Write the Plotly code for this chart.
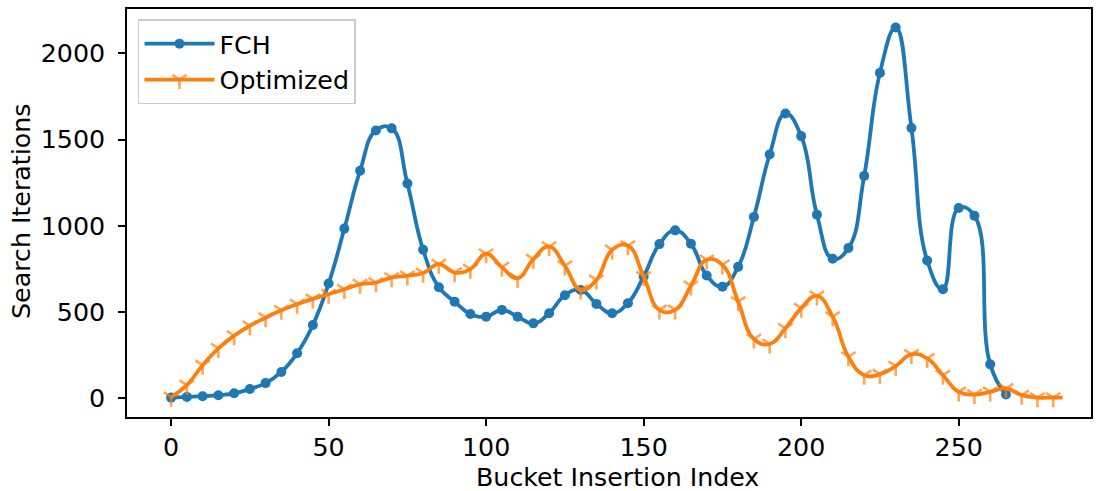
import plotly.graph_objects as go

# ---- data ----
fch_x = list(range(0, 270, 5))
fch_y = [2, 6, 10, 16, 27, 52, 86, 151, 259, 423, 664, 983, 1319, 1553, 1565, 1245,
         860, 643, 559, 487, 472, 511, 472, 433, 492, 596, 627, 546, 492, 550, 705,
         893, 973, 895, 711, 646, 761, 1051, 1413, 1651, 1520, 1064, 808, 870, 1289,
         1887, 2151, 1567, 798, 631, 1103, 1058, 195, 20]

opt_x = list(range(0, 285, 5)) + [283]
opt_y = [5, 74, 190, 288, 361, 419, 466, 509, 544, 575, 602, 631, 660, 670, 699, 709,
         725, 777, 728, 748, 837, 759, 695, 806, 879, 767, 627, 685, 860, 884, 705,
         511, 511, 651, 802, 773, 559, 342, 313, 404, 521, 592, 472, 239, 132, 138,
         185, 253, 229, 132, 35, 20, 35, 55, 16, 2, 2, 2]

x_ticks = [0, 50, 100, 150, 200, 250]
y_ticks = [0, 500, 1000, 1500, 2000]

BLUE = "#1f77b4"
ORANGE = "#ff7f0e"
FONT = "DejaVu Sans"
FS = 25.3

opt_sizes = [12] * (len(opt_x) - 1) + [0]
opt_lw = [2.6] * (len(opt_x) - 1) + [0]

fig = go.Figure()
fig.add_trace(go.Scatter(
    x=fch_x, y=fch_y, name="FCH", mode="lines+markers",
    line=dict(color=BLUE, width=3.8, shape="spline", smoothing=1.3),
    marker=dict(symbol="circle", size=10, color=BLUE),
))
fig.add_trace(go.Scatter(
    x=opt_x, y=opt_y, name="Optimized", mode="lines+markers",
    line=dict(color=ORANGE, width=3.8, shape="spline", smoothing=1.3),
    marker=dict(symbol="y-down", size=opt_sizes, color=ORANGE,
                line=dict(color=ORANGE, width=opt_lw)),
))

axis_common = dict(
    showline=True, linecolor="black", linewidth=1.6, mirror=True,
    ticks="outside", ticklen=7, tickwidth=1.6, tickcolor="black",
    showgrid=False, zeroline=False, automargin=False,
    tickfont=dict(family=FONT, size=FS, color="black"),
)

fig.update_layout(
    width=1097, height=491,
    margin=dict(l=127, r=6, t=9, b=74),
    paper_bgcolor="white", plot_bgcolor="white",
    font=dict(family=FONT, size=FS, color="black"),
    xaxis=dict(range=[-14, 292], tickvals=x_ticks, ticklabelstandoff=0, **axis_common),
    yaxis=dict(range=[-110.7, 2258], tickvals=y_ticks, ticklabelstandoff=8, **axis_common),
    legend=dict(x=0.0114, y=0.975, xanchor="left", yanchor="top",
                bgcolor="rgba(255,255,255,0.8)", bordercolor="#cccccc", borderwidth=1.5,
                font=dict(family=FONT, size=FS, color="black"),
                itemwidth=70, tracegroupgap=0),
    showlegend=True,
    annotations=[
        dict(text="Bucket Insertion Index", xref="paper", yref="paper", x=0.5083, y=0,
             xanchor="center", yanchor="middle", yshift=-60, showarrow=False,
             font=dict(family=FONT, size=FS, color="black")),
        dict(text="Search Iterations", xref="paper", yref="paper", x=0, y=0.5025,
             xanchor="center", yanchor="middle", xshift=-105, textangle=-90, showarrow=False,
             font=dict(family=FONT, size=FS, color="black")),
    ],
)

fig.write_html("out.html", config={"displayModeBar": False},
               post_script="document.body.style.margin='0';document.body.style.padding='0';")
